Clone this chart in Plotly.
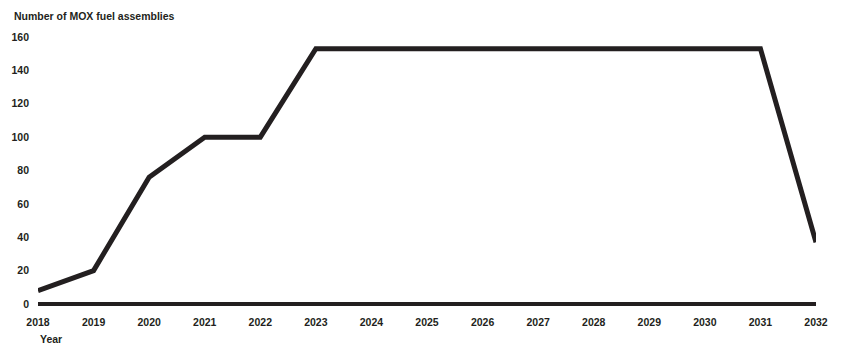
import plotly.graph_objects as go

years = [2018, 2019, 2020, 2021, 2022, 2023, 2024, 2025, 2026, 2027, 2028, 2029, 2030, 2031, 2032]
assemblies = [8, 20, 76, 100, 100, 153, 153, 153, 153, 153, 153, 153, 153, 153, 37]
y_ticks = [0, 20, 40, 60, 80, 100, 120, 140, 160]

INK = "#231f20"
FONT = "Liberation Sans, Arial, sans-serif"

fig = go.Figure()
fig.add_trace(go.Scatter(
    x=years, y=assemblies, mode="lines",
    line=dict(color=INK, width=5),
    cliponaxis=False, hoverinfo="skip", showlegend=False,
))

fig.update_layout(
    width=842, height=349,
    margin=dict(l=38, r=26, t=37, b=45),
    paper_bgcolor="white", plot_bgcolor="white",
    font=dict(family=FONT, size=10.5, color=INK),
    xaxis=dict(
        range=[2018, 2032], tickvals=years, ticktext=[str(y) for y in years],
        showgrid=False, zeroline=False, showline=False,
        ticks="", ticklabelstandoff=10,
        tickfont=dict(family=FONT, size=10.5, color=INK, weight="bold"),
    ),
    yaxis=dict(
        range=[0, 160], tickvals=y_ticks,
        showgrid=False, zeroline=True, zerolinecolor=INK, zerolinewidth=4,
        showline=False, ticks="", ticklabelstandoff=8,
        tickfont=dict(family=FONT, size=10.5, color=INK, weight="bold"),
    ),
    annotations=[
        dict(text="<b>Number of MOX fuel assemblies</b>", xref="paper", yref="paper",
             x=-26/778, y=1 + 21/267, xanchor="left", yanchor="middle", showarrow=False,
             font=dict(family=FONT, size=10.5, color=INK)),
        dict(text="<b>Year</b>", xref="paper", yref="paper",
             x=0, y=-35/267, xanchor="left", yanchor="middle", showarrow=False,
             font=dict(family=FONT, size=10.5, color=INK)),
    ],
)

fig.write_html("out.html")
